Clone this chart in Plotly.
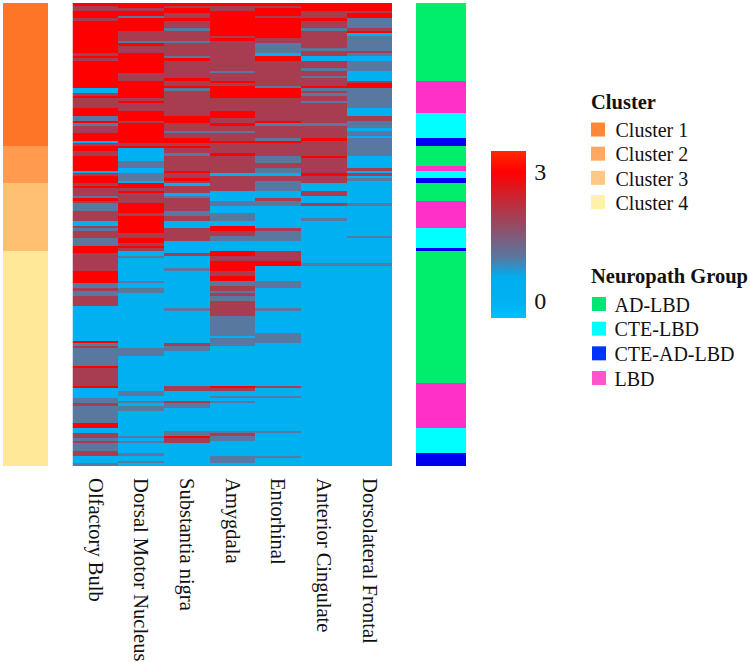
import plotly.graph_objects as go

regions = ["Olfactory Bulb", "Dorsal Motor Nucleus", "Substantia nigra", "Amygdala",
           "Entorhinal", "Anterior Cingulate", "Dorsolateral Frontal"]

# run-length reading of each heatmap column: (score, number of cases)
olfactory = [(3,1),(2,2),(3,3),(2,1),(3,13),(2,1),(3,1),(2,1),(3,11),(0,2),(2,1),(3,1),(2,4),(3,3),(1,2),
             (3,1),(1,1),(2,3),(3,3),(0,1),(2,1),(3,2),(2,2),(3,6),(0,1),(2,1),(3,3),(2,1),(3,1),(2,3),(1,1),(3,1),(2,1),
             (1,3),(2,4),(0,2),(2,1),(1,1),(2,3),(1,3),(3,3),(2,7),(3,5),(1,2),(2,1),(1,2),(2,4),(0,14),(3,1),(1,1),(2,1),
             (1,7),(3,1),(2,7),(3,1),(0,4),(1,2),(2,1),(1,7),(3,2),(0,2),(2,2),(1,1),(2,1),(1,3),(2,2),(0,3),(1,1)]
dorsal_motor = [(3,2),(2,1),(3,2),(1,1),(3,5),(2,4),(1,1),(3,1),(2,3),(3,8),(2,3),(3,7),(2,1),(3,1),(2,3),(3,4),
                (2,1),(3,8),(2,1),(3,1),(0,5),(1,3),(0,2),(1,3),(0,1),(3,2),(2,1),(3,1),(2,4),(3,4),(2,1),(3,7),(2,2),(3,2),
                (2,1),(3,1),(2,1),(0,2),(1,1),(0,9),(1,1),(0,2),(1,2),(0,22),(1,3),(0,14),(1,2),(0,2),(1,1),(0,1),(1,2),
                (0,10),(1,1),(0,1),(1,1),(0,4),(1,1),(0,2),(1,1),(0,1)]
substantia = [(3,1),(2,1),(3,2),(2,2),(3,1),(2,3),(1,1),(2,4),(1,1),(2,5),(1,1),(3,1),(2,7),(3,1),(2,2),(3,1),(1,1),
              (2,10),(3,3),(2,3),(1,1),(2,2),(3,2),(2,1),(3,1),(2,2),(1,1),(2,6),(3,1),(2,2),(3,1),(2,1),(0,1),(2,3),(0,1),
              (1,1),(2,5),(1,2),(2,2),(0,3),(2,5),(0,5),(2,1),(0,5),(1,1),(0,15),(1,1),(0,13),(2,1),(1,2),(0,14),(2,2),
              (0,4),(2,1),(1,2),(0,9),(1,2),(3,1),(2,2),(0,9)]
amygdala = [(3,1),(2,2),(3,10),(2,1),(3,1),(2,12),(1,1),(2,3),(3,1),(2,1),(3,5),(2,5),(3,3),(2,2),(3,1),(2,2),(1,1),
            (2,3),(3,1),(2,4),(3,1),(2,7),(0,1),(2,6),(0,4),(1,2),(0,3),(1,3),(0,2),(3,2),(2,2),(1,2),(0,4),(3,2),(2,2),
            (3,4),(2,2),(3,2),(1,2),(2,2),(1,1),(2,1),(1,2),(2,6),(1,8),(0,1),(1,3),(0,16),(3,1),(2,1),(0,2),(1,1),(0,1),
            (1,1),(0,11),(1,1),(2,1),(1,2),(0,6),(1,3),(0,1)]
entorhinal = [(3,1),(2,1),(3,3),(2,1),(3,8),(2,2),(1,4),(0,1),(3,2),(2,10),(1,1),(3,4),(2,9),(3,1),(1,1),(2,5),(1,1),
              (3,1),(2,5),(1,3),(2,2),(1,2),(0,1),(2,2),(1,4),(0,3),(2,1),(1,2),(0,9),(2,1),(1,4),(0,4),(2,4),(3,2),(0,6),
              (1,3),(0,8),(1,1),(0,9),(1,4),(0,17),(2,1),(0,3),(1,1),(0,13),(1,1),(0,9),(1,1),(0,3)]
anterior_cing = [(3,3),(2,3),(3,1),(2,3),(1,1),(2,7),(1,1),(2,2),(0,2),(2,3),(1,1),(2,2),(1,1),(2,3),(3,1),(1,1),(2,1),
                 (1,1),(2,2),(1,1),(2,8),(1,1),(2,5),(3,1),(2,6),(3,1),(2,6),(3,1),(2,3),(0,3),(2,2),(0,3),(2,1),(0,5),
                 (1,1),(0,17),(1,1),(0,80)]
dorsolateral = [(3,3),(2,1),(3,2),(1,4),(2,1),(3,1),(0,1),(1,6),(2,1),(1,1),(0,2),(1,4),(0,4),(2,1),(3,2),(1,8),(0,3),
                (2,2),(1,3),(0,1),(1,2),(0,1),(1,7),(0,5),(2,1),(0,1),(2,1),(0,1),(1,1),(0,9),(1,1),(0,12),(1,1),(0,10),
                (1,1),(0,80)]

cluster_runs = [(0,57),(1,15),(2,27),(3,86)]
group_runs = [(0,31),(3,13),(1,10),(2,3),(0,8),(3,2),(1,3),(2,2),(0,7),(3,11),(1,8),(2,1),(0,53),(3,18),(1,10),(2,5)]

cluster_names = ["Cluster 1", "Cluster 2", "Cluster 3", "Cluster 4"]
cluster_colors = ["#FF7528", "#FF9A4E", "#FFC072", "#FFE999"]
cluster_legend_colors = ["#FF8838", "#FFA862", "#FFC884", "#FFF0AC"]
group_names = ["AD-LBD", "CTE-LBD", "CTE-AD-LBD", "LBD"]
group_colors = ["#00EE6C", "#00FFFF", "#0000EE", "#FF30C8"]
group_legend_colors = ["#00E676", "#00FFFF", "#0033FF", "#FF55CC"]

def expand(runs):
    out = []
    for value, n in runs:
        out += [value] * n
    return out

columns = [expand(c) for c in (olfactory, dorsal_motor, substantia, amygdala, entorhinal, anterior_cing, dorsolateral)]
assert all(len(c) == 185 for c in columns), [len(c) for c in columns]
rows = list(range(len(columns[0])))
z = [[columns[j][i] for j in range(7)] for i in rows]

W, H = 750, 662
zmin, zmax = -0.4, 3.49
def stop(v):
    return (v - zmin) / (zmax - zmin)
scale = [[0, "#00BFFF"], [stop(0), "#00B0F0"], [stop(0.55), "#00AEEF"], [stop(1), "#5878A0"],
         [stop(2), "#A83D52"], [stop(3), "#FF0000"], [1, "#FF2A00"]]

def discrete(colors):
    n = len(colors) - 1
    return [[i / n, c] for i, c in enumerate(colors)]

serif = "Liberation Serif"
ink = "#111"
clear = "rgba(0,0,0,0)"
fig = go.Figure()
fig.add_trace(go.Heatmap(z=[[v] for v in expand(cluster_runs)], y=rows, x=["c"], xaxis="x2", yaxis="y",
                         colorscale=discrete(cluster_colors), zmin=0, zmax=3, showscale=False, hoverinfo="skip"))
fig.add_trace(go.Heatmap(z=z, x=regions, y=rows, xaxis="x", yaxis="y", colorscale=scale, zmin=zmin, zmax=zmax,
                         colorbar=dict(x=491 / W, xanchor="left", xpad=0, y=1 - 151 / H, yanchor="top", ypad=0,
                                       lenmode="pixels", len=167, thicknessmode="pixels", thickness=35,
                                       outlinewidth=0, tickvals=[0, 3], ticks="outside", ticklen=4,
                                       tickcolor=clear, tickfont=dict(family=serif, size=24, color=ink))))
fig.add_trace(go.Heatmap(z=[[v] for v in expand(group_runs)], y=rows, x=["g"], xaxis="x3", yaxis="y",
                         colorscale=discrete(group_colors), zmin=0, zmax=3, showscale=False, hoverinfo="skip"))

def legend_block(names, colors, xa, ya, ya_text):
    fig.add_trace(go.Scatter(x=[0] * len(names), y=names, xaxis=xa, yaxis=ya, mode="markers", cliponaxis=False,
                             marker=dict(symbol="square", size=14, color=colors), showlegend=False, hoverinfo="skip"))
    fig.add_trace(go.Scatter(x=[1] * len(names), y=names, xaxis=xa, yaxis=ya_text, mode="text", text=names,
                             textposition="middle right", cliponaxis=False,
                             textfont=dict(family=serif, size=20, color=ink), showlegend=False, hoverinfo="skip"))

legend_block(cluster_names, cluster_legend_colors, "x4", "y4", "y6")
legend_block(group_names, group_legend_colors, "x5", "y5", "y7")

hidden = dict(visible=False, showgrid=False, zeroline=False)
fig.update_layout(
    width=W, height=H, margin=dict(l=0, r=0, t=0, b=0, autoexpand=False), paper_bgcolor="white", plot_bgcolor=clear,
    showlegend=False,
    xaxis=dict(domain=[72.5 / W, 392 / W], side="bottom", tickangle=90, ticks="outside", ticklen=7, tickcolor=clear,
               automargin=False, showgrid=False, anchor="y", tickfont=dict(family=serif, size=20.5, color=ink)),
    xaxis2=dict(domain=[3 / W, 48 / W], showticklabels=False, ticks="", showgrid=False, anchor="y"),
    xaxis3=dict(domain=[416 / W, 466 / W], showticklabels=False, ticks="", showgrid=False, anchor="y"),
    yaxis=dict(domain=[1 - 466 / H, 1 - 3 / H], autorange="reversed", showticklabels=False, ticks="",
               showgrid=False, zeroline=False),
    xaxis4=dict(domain=[598 / W, 615.5 / W], range=[0, 1], anchor="y4", **hidden),
    yaxis4=dict(domain=[1 - 202 / H, 1 - 129.5 / H], type="category", categoryarray=cluster_names,
                range=[3, 0], anchor="x4", **hidden),
    yaxis6=dict(domain=[1 - 205 / H, 1 - 131.5 / H], type="category", categoryarray=cluster_names,
                range=[3, 0], anchor="x4", **hidden),
    xaxis5=dict(domain=[599 / W, 614.5 / W], range=[0, 1], anchor="y5", **hidden),
    yaxis5=dict(domain=[1 - 378 / H, 1 - 304 / H], type="category", categoryarray=group_names,
                range=[3, 0], anchor="x5", **hidden),
    yaxis7=dict(domain=[1 - 380.5 / H, 1 - 306.5 / H], type="category", categoryarray=group_names,
                range=[3, 0], anchor="x5", **hidden),
    annotations=[
        dict(text="<b>Cluster</b>", xref="paper", yref="paper", x=588.5 / W, y=1 - 102 / H, xanchor="left",
             yanchor="middle", showarrow=False, font=dict(family=serif, size=20.5, color=ink)),
        dict(text="<b>Neuropath Group</b>", xref="paper", yref="paper", x=588.5 / W, y=1 - 276 / H, xanchor="left",
             yanchor="middle", showarrow=False, font=dict(family=serif, size=20.5, color=ink)),
    ],
)
fig.write_html("out.html", post_script="document.body.style.margin='0';", config={"displayModeBar": False})
